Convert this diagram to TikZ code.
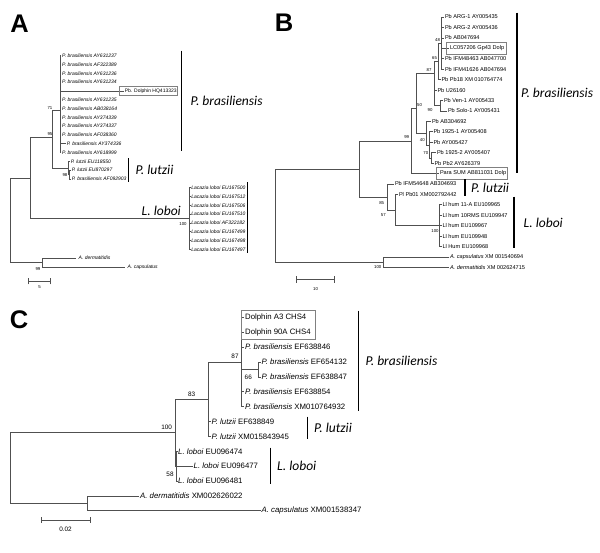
\documentclass[tikz,border=0pt]{standalone}
\usepackage{fontspec}
\setmainfont{Liberation Sans}
\newfontfamily\cladefont{Carlito}
\usepackage{tikz}
\usetikzlibrary{positioning}
\definecolor{tgray}{HTML}{505050}
\definecolor{tboxc}{HTML}{808080}
\tikzset{
  tbranch/.style={draw=tgray, line width=0.5pt},
  ttipa/.style={anchor=west, inner sep=0.6pt, font=\fontsize{5}{6}\selectfont\itshape},
  ttipb/.style={anchor=west, inner sep=0.8pt, font=\fontsize{5.6}{6.5}\selectfont},
  ttipc/.style={anchor=west, inner sep=1pt, font=\fontsize{7.8}{9}\selectfont},
  tboot/.style={inner sep=0pt, font=\fontsize{4.3}{5}\selectfont},
  tbootc/.style={inner sep=0pt, font=\fontsize{6.4}{7}\selectfont},
  tbar/.style={draw=black, line width=1.4pt},
  tclade/.style={inner sep=0pt, font=\cladefont\itshape\fontsize{13.5}{15}\selectfont},
  tdolp/.style={draw=tboxc, line width=0.8pt},
  tletter/.style={inner sep=0pt, font=\fontsize{25.5}{28}\selectfont\bfseries},
  tscale/.style={|-|, draw=tgray, line width=0.6pt},
}

\begin{document}
\begin{tikzpicture}[x=1pt,y=-1pt]
  \useasboundingbox (0,0) rectangle (600,553);

  % painel A
  \node[tletter] (pa) at (19.5,24) {A};
  \coordinate (aroot) at (10,262.5);
  \coordinate (atop) at (30.7,177.9);
  \coordinate (an95) at (52.7,137.3);
  \coordinate (an71) at (60,110);
  \coordinate (alut) at (68,167.9);
  \coordinate (alut2) at (69.5,174.5);
  \coordinate (alac) at (189.5,218.5);
  \coordinate (aout) at (42.7,262.5);
  \draw[tbranch] (aroot) |- (atop);
  \draw[tbranch] (aroot) -- (aout);
  \draw[tbranch] (atop) |- (an95);
  \draw[tbranch] (atop) |- (alac);
  \draw[tbranch] (an95) |- (an71);
  \draw[tbranch] (an95) |- (alut);
  \draw[tbranch] (alut) |- (alut2);

  \foreach \row/\acc in {1/AY631237, 2/AF322389, 3/AY631236, 4/AY631234, 6/AY631235,
                         7/AB038164, 8/AY374339, 9/AY374337, 10/AF038360, 12/AY618999}{
    \node[ttipa] (at\row) at (61.3,{55.7+8.8*(\row-1)}) {P. brasiliensis \acc};
    \draw[tbranch] (an71) |- (at\row.west);
  }
  \node[ttipa] (at11) at (66,143.7) {P. brasiliensis AY374336};
  \draw[tbranch] (an71) |- (at11.west);
  \node[ttipa, font=\fontsize{5}{6}\selectfont] (at5) at (124,90.9) {Pb. Dolphin HQ413323};
  \draw[tbranch] (an71) |- (at5.west);
  \draw[tdolp] (119,86.2) rectangle (177,95.6);

  \node[ttipa] (at13) at (70,161.3) {P. lutzii EU118550};
  \node[ttipa] (at14) at (71,170.1) {P. lutzii EU870297};
  \node[ttipa] (at15) at (71,178.9) {P. brasiliensis AF092903};
  \draw[tbranch] (alut) |- (at13.west);
  \draw[tbranch] (alut2) |- (at14.west);
  \draw[tbranch] (alut2) |- (at15.west);

  \foreach \row/\acc in {16/EU167500, 17/EU167512, 18/EU167506, 19/EU167510,
                         20/AF322182, 21/EU167499, 22/EU167498, 23/EU167497}{
    \node[ttipa] (at\row) at (190.5,{55.7+8.8*(\row-1)}) {Lacazia loboi \acc};
    \draw[tbranch] (alac) |- (at\row.west);
  }

  \node[ttipa, inner xsep=2.5pt] (at24) at (76,258.1) {A. dermatitidis};
  \node[ttipa, inner xsep=2.5pt] (at25) at (125,266.9) {A. capsulatus};
  \draw[tbranch] (aout) |- (at24.west);
  \draw[tbranch] (aout) |- (at25.west);

  \node[tboot] (ab71) at (50,108.3) {71};
  \node[tboot] (ab95) at (50,134) {95};
  \node[tboot] (ab98) at (65,175.5) {98};
  \node[tboot] (ab100) at (183,224) {100};
  \node[tboot] (ab99) at (38,268.7) {99};

  \coordinate (abr1) at (181.7,50.7);  \coordinate (abr2) at (181.7,150.7);
  \coordinate (alu1) at (128.3,158.3); \coordinate (alu2) at (128.3,181.7);
  \coordinate (alo1) at (247.7,182.3); \coordinate (alo2) at (247.7,253);
  \draw[tbar] (abr1) -- node[tclade, right=8.3pt] (acbr) {P. brasiliensis} (abr2);
  \draw[tbar] (alu1) -- node[tclade, right=6.5pt] (aclu) {P. lutzii} (alu2);
  \draw[tbar] (alo1) -- (alo2);
  \node[tclade, anchor=west] (aclo) at (141.5,211) {L. loboi};

  \coordinate (asc1) at (28.3,281.3); \coordinate (asc2) at (50.7,281.3);
  \draw[tscale] (asc1) -- (asc2);
  \node[tboot] (asl) at (39.5,287) {5};

  % painel B
  \node[tletter] (pb) at (284,23) {B};
  \coordinate (broot) at (275,215.5);
  \coordinate (bin) at (359.3,168.9);
  \coordinate (bout) at (383,262.1);
  \coordinate (bn99) at (411.7,140.9);
  \coordinate (bn50) at (416,108.3);
  \coordinate (bn87) at (434,73.5);
  \coordinate (bn65) at (438,61.3);
  \coordinate (bn48) at (441.5,43.1);
  \coordinate (bn90) at (440,105.7);
  \coordinate (bnA) at (426.5,133);
  \coordinate (bn40) at (429.5,144.8);
  \coordinate (bn70) at (431.5,157.8);
  \coordinate (bn85) at (387.3,196.9);
  \coordinate (bn57) at (395,210);
  \coordinate (bnL) at (439.3,225.6);
  \draw[tbranch] (broot) |- (bin);
  \draw[tbranch] (broot) |- (bout);
  \draw[tbranch] (bin) |- (bn99);
  \draw[tbranch] (bin) |- (bn85);
  \draw[tbranch] (bn99) |- (bn50);
  \draw[tbranch] (bn50) |- (bn87);
  \draw[tbranch] (bn50) |- (bnA);
  \draw[tbranch] (bn87) |- (bn65);
  \draw[tbranch] (bn65) |- (bn48);
  \draw[tbranch] (bn87) |- (bn90);
  \draw[tbranch] (bnA) |- (bn40);
  \draw[tbranch] (bn40) |- (bn70);
  \draw[tbranch] (bn85) |- (bn57);
  \draw[tbranch] (bn57) |- (bnL);

  \foreach \row/\pnode/\xx/\lbl in {1/bn48/444/Pb ARG-1 AY005435, 2/bn48/444/Pb ARG-2 AY005436,
      3/bn48/444/Pb AB047694, 4/bn48/449/LC057206 Gp43 Dolp,
      5/bn48/444/Pb IFM48463 AB047700, 6/bn48/444/Pb IFM41626 AB047694,
      7/bn65/440.5/Pb Pb18 XM 010764774, 8/bn87/436.5/Pb U26160,
      9/bn90/443/Pb Ven-1 AY005433, 10/bn90/447/Pb Solo-1 AY005431,
      11/bnA/431/Pb AB304692, 12/bn40/432.5/Pb 1925-1 AY005408,
      13/bn40/432.5/Pb AY005427, 14/bn70/436/Pb 1925-2 AY005407,
      15/bn70/433.5/Pb Pb2 AY626379, 16/bn99/439/Para SUM AB811031 Dolp,
      17/bn85/394/Pb IFM54648 AB304693, 18/bn57/398/Pl Pb01 XM002792442,
      19/bnL/441.5/Ll hum 11-A EU109965, 20/bnL/441.5/Ll hum 10RMS EU109947,
      21/bnL/441.5/Ll hum EU109967, 22/bnL/441.5/Ll hum EU109948,
      23/bnL/441.5/Ll Hum EU109968}{
    \node[ttipb] (bt\row) at (\xx,{17+10.43*(\row-1)}) {\lbl};
    \draw[tbranch] (\pnode) |- (bt\row.west);
  }
  \node[ttipb] (bt24) at (449,256.9) {\textit{A. capsulatus} XM 001540694};
  \node[ttipb] (bt25) at (449,267.3) {\textit{A. dermatitidis} XM 002624715};
  \draw[tbranch] (bout) |- (bt24.west);
  \draw[tbranch] (bout) |- (bt25.west);
  \draw[tdolp] (446.5,42.6) rectangle (506.5,54);
  \draw[tdolp] (436.7,167.8) rectangle (507,179.1);

  \node[tboot] (bb48) at (437.5,40) {48};
  \node[tboot] (bb65) at (434.5,58.3) {65};
  \node[tboot] (bb87) at (429,70.5) {87};
  \node[tboot] (bb90) at (430,110.5) {90};
  \node[tboot] (bb50) at (419.5,105.5) {50};
  \node[tboot] (bb99) at (406.7,137.3) {99};
  \node[tboot] (bb40) at (422.3,140) {40};
  \node[tboot] (bb70) at (425.8,153.3) {70};
  \node[tboot] (bb85) at (381.7,202.7) {85};
  \node[tboot] (bb57) at (383.3,215) {57};
  \node[tboot] (bb100a) at (435,231) {100};
  \node[tboot] (bb100b) at (377.7,266.7) {100};

  \coordinate (bbr1) at (517,12.7);  \coordinate (bbr2) at (517,173.3);
  \coordinate (blu1) at (465,179.3); \coordinate (blu2) at (465,196);
  \coordinate (blo1) at (514,196.7); \coordinate (blo2) at (514,248.3);
  \draw[tbar] (bbr1) -- node[tclade, right=3.5pt] (bcbr) {P. brasiliensis} (bbr2);
  \draw[tbar] (blu1) -- node[tclade, right=5.5pt] (bclu) {P. lutzii} (blu2);
  \draw[tbar] (blo1) -- node[tclade, right=9pt] (bclo) {L. loboi} (blo2);

  \coordinate (bsc1) at (296,279.5); \coordinate (bsc2) at (335,279.5);
  \draw[tscale] (bsc1) -- (bsc2);
  \node[tboot] (bsl) at (315.5,289) {10};

  % painel C
  \node[tletter] (pc) at (19,320) {C};
  \coordinate (croot) at (10,468);
  \coordinate (cin) at (175,432.6);
  \coordinate (cout) at (87.3,503.3);
  \coordinate (cn83) at (208.3,399.1);
  \coordinate (cn87) at (241.7,361.9);
  \coordinate (cn66) at (258.3,369.4);
  \coordinate (cn58) at (176.5,466.1);
  \draw[tbranch] (croot) |- (cin);
  \draw[tbranch] (croot) |- (cout);
  \draw[tbranch] (cin) |- (cn83);
  \draw[tbranch] (cin) |- (cn58);
  \draw[tbranch] (cn83) |- (cn87);
  \draw[tbranch] (cn87) |- (cn66);

  \foreach \row/\pnode/\xx/\lbl in {1/cn87/244/Dolphin A3 CHS4, 2/cn87/244/Dolphin 90A CHS4,
      3/cn87/244/\textit{P. brasiliensis} EF638846, 4/cn66/260.5/\textit{P. brasiliensis} EF654132,
      5/cn66/260.5/\textit{P. brasiliensis} EF638847, 6/cn87/244/\textit{P. brasiliensis} EF638854,
      7/cn87/244/\textit{P. brasiliensis} XM010764932, 8/cn83/210.5/\textit{P. lutzii} EF638849,
      9/cn83/210.5/\textit{P. lutzii} XM015843945, 10/cn58/177/\textit{L. loboi} EU096474,
      11/cn58/192.5/\textit{L. loboi} EU096477, 12/cn58/177/\textit{L. loboi} EU096481,
      13/cout/139/\textit{A. dermatitidis} XM002626022,
      14/cout/260.5/\textit{A. capsulatus} XM001538347}{
    \node[ttipc] (ct\row) at (\xx,{317.3+14.88*(\row-1)}) {\lbl};
    \draw[tbranch] (\pnode) |- (ct\row.west);
  }
  \draw[tdolp] (241.7,310) rectangle (315,339.5);

  \node[tbootc] (cb87) at (235,356.7) {87};
  \node[tbootc] (cb66) at (248.3,377.3) {66};
  \node[tbootc] (cb83) at (191.7,394.3) {83};
  \node[tbootc] (cb100) at (166.7,427.7) {100};
  \node[tbootc] (cb58) at (170,474) {58};

  \coordinate (cbr1) at (358.3,310.7); \coordinate (cbr2) at (358.3,410.7);
  \coordinate (clu1) at (307.3,416.7); \coordinate (clu2) at (307.3,439.3);
  \coordinate (clo1) at (270.5,447.5); \coordinate (clo2) at (270.5,484);
  \draw[tbar] (cbr1) -- node[tclade, right=6.5pt] (ccbr) {P. brasiliensis} (cbr2);
  \draw[tbar] (clu1) -- node[tclade, right=6pt] (cclu) {P. lutzii} (clu2);
  \draw[tbar] (clo1) -- node[tclade, right=6pt] (cclo) {L. loboi} (clo2);

  \coordinate (csc1) at (40.7,520); \coordinate (csc2) at (90.7,520);
  \draw[tscale] (csc1) -- (csc2);
  \node[tbootc] (csl) at (65.5,529.5) {0.02};

\end{tikzpicture}
\end{document}
